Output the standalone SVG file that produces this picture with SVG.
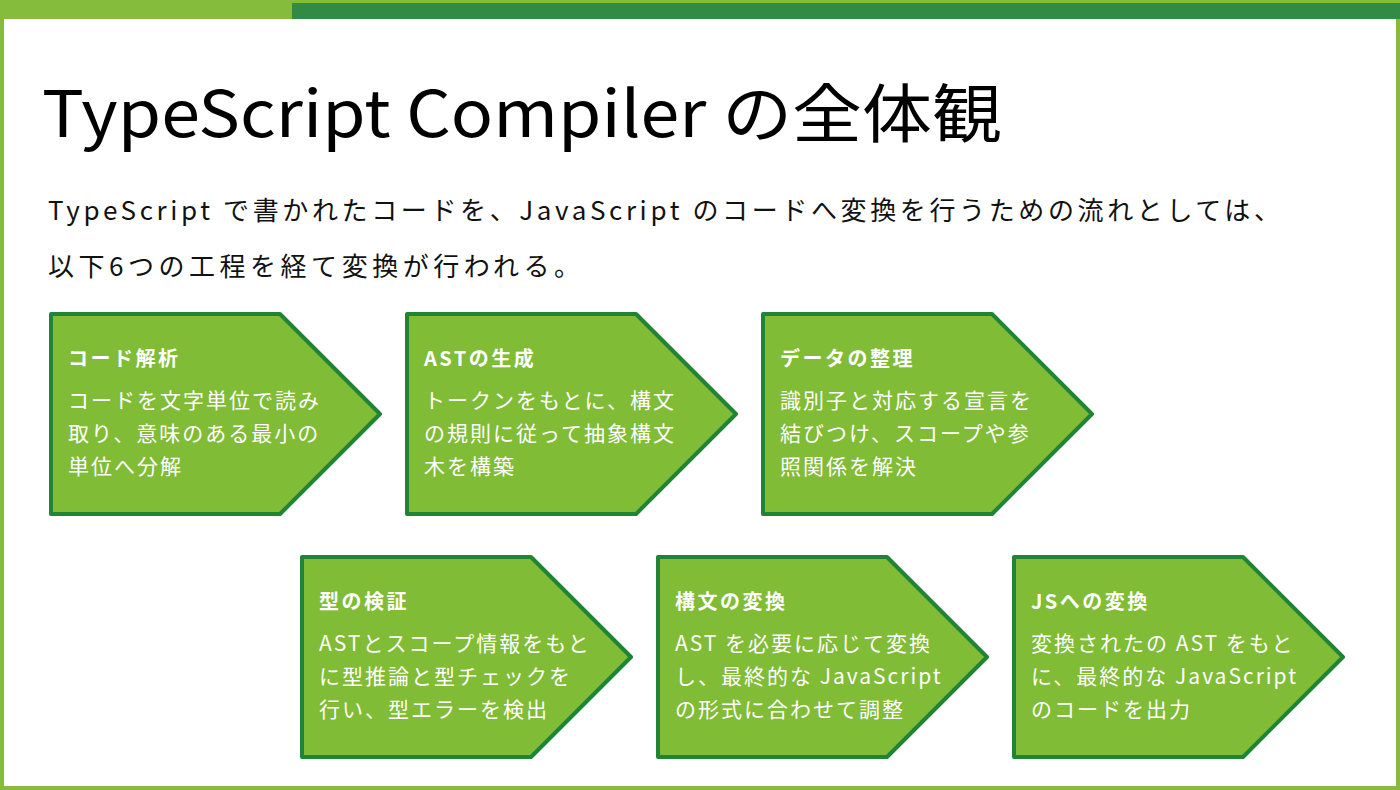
<svg xmlns="http://www.w3.org/2000/svg" width="1400" height="790" viewBox="0 0 1400 790">
<style>
.f{font-family:"Noto Sans CJK JP","Noto Sans",sans-serif}
.n{fill:#80bc36;stroke:#1f8436;stroke-width:4;stroke-linejoin:round}
.h{font-size:20px;font-weight:bold;fill:#fff;letter-spacing:2.5px}
.b{font-size:21px;fill:#fff;letter-spacing:2px}
</style>
<rect width="1400" height="790" fill="#86bc3b"/>
<rect x="4" y="19" width="1392" height="767" fill="#fff"/>
<rect x="292" y="3" width="1108" height="16" fill="#318b45"/>
<text class="f" x="42" y="137" font-size="64" fill="#000" textLength="960" lengthAdjust="spacingAndGlyphs">TypeScript Compiler の全体観</text>
<text class="f" x="48" y="220" font-size="26" fill="#111" textLength="1232" lengthAdjust="spacing">TypeScript で書かれたコードを、JavaScript のコードへ変換を行うための流れとしては、</text>
<text class="f" x="48" y="276" font-size="26" fill="#111" textLength="532" lengthAdjust="spacing">以下6つの工程を経て変換が行われる。</text>
<g id="n1" transform="translate(51,314)"><path class="n" d="M0 0H229L329 100L229 200H0Z"/><text class="f h" x="17" y="52">コード解析</text><text class="f b" x="17" y="94">コードを文字単位で読み</text><text class="f b" x="17" y="127">取り、意味のある最小の</text><text class="f b" x="17" y="160">単位へ分解</text></g>
<g id="n2" transform="translate(407,314)"><path class="n" d="M0 0H229L329 100L229 200H0Z"/><text class="f h" x="17" y="52">ASTの生成</text><text class="f b" x="17" y="94">トークンをもとに、構文</text><text class="f b" x="17" y="127">の規則に従って抽象構文</text><text class="f b" x="17" y="160">木を構築</text></g>
<g id="n3" transform="translate(763,314)"><path class="n" d="M0 0H229L329 100L229 200H0Z"/><text class="f h" x="17" y="52">データの整理</text><text class="f b" x="17" y="94">識別子と対応する宣言を</text><text class="f b" x="17" y="127">結びつけ、スコープや参</text><text class="f b" x="17" y="160">照関係を解決</text></g>
<g id="n4" transform="translate(302,557)"><path class="n" d="M0 0H229L329 100L229 200H0Z"/><text class="f h" x="17" y="52">型の検証</text><text class="f b" x="17" y="94">ASTとスコープ情報をもと</text><text class="f b" x="17" y="127">に型推論と型チェックを</text><text class="f b" x="17" y="160">行い、型エラーを検出</text></g>
<g id="n5" transform="translate(658,557)"><path class="n" d="M0 0H229L329 100L229 200H0Z"/><text class="f h" x="17" y="52">構文の変換</text><text class="f b" x="17" y="94">AST を必要に応じて変換</text><text class="f b" x="17" y="127">し、最終的な JavaScript</text><text class="f b" x="17" y="160">の形式に合わせて調整</text></g>
<g id="n6" transform="translate(1014,557)"><path class="n" d="M0 0H229L329 100L229 200H0Z"/><text class="f h" x="17" y="52">JSへの変換</text><text class="f b" x="17" y="94">変換されたの AST をもと</text><text class="f b" x="17" y="127">に、最終的な JavaScript</text><text class="f b" x="17" y="160">のコードを出力</text></g>
<g id="connectors"/>
</svg>
